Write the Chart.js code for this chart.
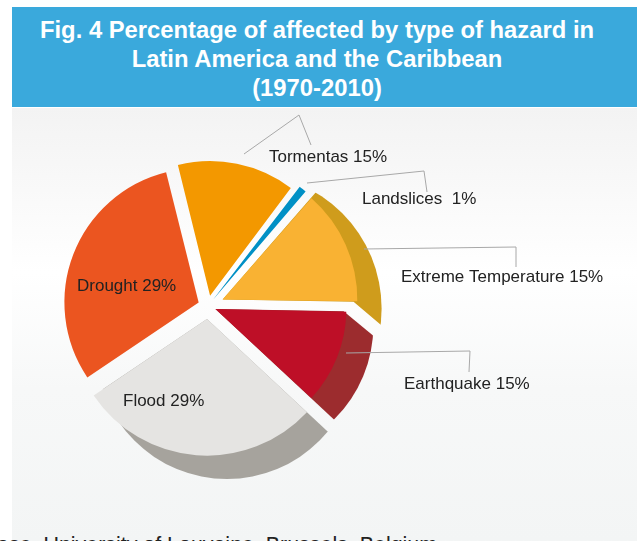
<!DOCTYPE html>
<html>
<head>
<meta charset="utf-8">
<script src="https://cdn.jsdelivr.net/npm/chart.js@4"></script>
<style>
html,body{margin:0;padding:0;background:#fff;width:642px;height:541px;overflow:hidden;font-family:"Liberation Sans",Arial,sans-serif}
#header{position:absolute;left:12px;top:7px;width:625px;height:100px;background:#3aa9dc;color:#fff;font-weight:bold;font-size:23.8px;line-height:29px;text-align:center;box-sizing:border-box;padding:8px 15px 0 0;white-space:nowrap}
#panel{position:absolute;left:12px;top:108px;width:625px;height:433px;background:linear-gradient(#f3f3f3 0%,#fafafa 22%,#ffffff 38%,#f7f8f8 65%,#f3f5f5 100%)}
#footer{position:absolute;right:205px;top:533px;font-size:21.4px;line-height:24px;color:#222;white-space:nowrap}
canvas{position:absolute;left:0;top:0}
</style>
</head>
<body>
<div id="header">Fig. 4 Percentage of affected by type of hazard in<br>Latin America and the Caribbean<br>(1970-2010)</div>
<div id="panel"></div>
<div id="footer">Database, University of Louvaine, Brussels, Belgium</div>
<canvas id="c" width="642" height="541"></canvas>
<script>
// Hazard names and the percentages printed beside the slices.
const hazards = ["Tormentas", "Landslices", "Extreme Temperature", "Earthquake", "Flood", "Drought"];
const printedPercent = [15, 1, 15, 15, 29, 29];
// Wedge sizes as actually drawn in the picture, in degrees (the picture's wedges
// do not follow the printed percentages exactly, e.g. Earthquake is narrower).
const drawnDegrees = [51, 4, 50, 42, 103, 110];
const colors = ["#f39800", "#0090c5", "#f9b233", "#be0f27", "#e5e4e2", "#eb5520"];

// Chart.js translates a slice by offset/4 along its mid-angle.
const sliceOffsets = [42, 32, 64, 32, 52, 40];
// Each slice of the picture has its own slightly different radius.
const sliceRadiusScale = [0.98, 1, 0.97, 0.95, 1.01, 0.99];

// 3D side walls: circle shifted from the slice apex, clipped beside the slice.
const walls = {
  2: {color: "#cf9c1c", dx: 24, dy: 9, r: 135, kind: "afterEnd", vec: [26, 22]},
  3: {color: "#9c2c2e", dx: 25, dy: 16, r: 133, kind: "afterStart", vec: [23, 19]},
  4: {color: "#a6a39d", dx: 20, dy: 29, r: 131, kind: "wedge"}
};
// Label placement: text anchor and leader-line path.
const callouts = [
  {x: 269, y: 157, line: [[244,154],[299,115],[311,145]]},
  {x: 362, y: 199, text: "Landslices  1%", line: [[307,183],[424,171],[427,192]]},
  {x: 401, y: 277, line: [[364,249],[516,247],[516,267]]},
  {x: 404, y: 384, line: [[346,353],[470,351],[469,372]]},
  {x: 123, y: 401},
  {x: 77,  y: 286}
];

function apexOf(arc) {
  const mid = (arc.startAngle + arc.endAngle) / 2, o = (arc.options.offset || 0) / 4;
  return {x: arc.x + Math.cos(mid) * o, y: arc.y + Math.sin(mid) * o};
}

const wallPlugin = {
  id: "walls",
  afterDatasetUpdate(chart) {
    chart.getDatasetMeta(0).data.forEach((arc, i) => {
      arc.outerRadius = arc.outerRadius * sliceRadiusScale[i];
    });
  },
  beforeDatasetsDraw(chart) {
    const ctx = chart.ctx, arcs = chart.getDatasetMeta(0).data;
    Object.keys(walls).forEach(k => {
      const w = walls[k], arc = arcs[k], A = apexOf(arc), far = 1000;
      const R = arc.outerRadius;
      const ds = [Math.cos(arc.startAngle), Math.sin(arc.startAngle)];
      const de = [Math.cos(arc.endAngle), Math.sin(arc.endAngle)];
      ctx.save();
      ctx.beginPath();
      ctx.moveTo(A.x, A.y);
      if (w.kind === "wedge") {
        ctx.lineTo(A.x + ds[0]*far, A.y + ds[1]*far);
        ctx.lineTo(A.x + de[0]*far, A.y + de[1]*far);
      } else if (w.kind === "afterEnd") {
        const E = [A.x + de[0]*R, A.y + de[1]*R];
        const P = [E[0] + w.vec[0]*10, E[1] + w.vec[1]*10];
        ctx.lineTo(A.x + ds[0]*far, A.y + ds[1]*far);
        ctx.lineTo(P[0] + ds[0]*far, P[1] + ds[1]*far);
        ctx.lineTo(P[0], P[1]);
        ctx.lineTo(E[0], E[1]);
      } else {
        const E = [A.x + ds[0]*R, A.y + ds[1]*R];
        const P = [E[0] + w.vec[0]*10, E[1] + w.vec[1]*10];
        ctx.lineTo(E[0], E[1]);
        ctx.lineTo(P[0], P[1]);
        ctx.lineTo(A.x + de[0]*(Math.hypot(w.vec[0], w.vec[1])*10 + R), A.y + de[1]*(Math.hypot(w.vec[0], w.vec[1])*10 + R));
      }
      ctx.closePath();
      ctx.clip();
      ctx.fillStyle = w.color;
      ctx.beginPath();
      ctx.arc(A.x + w.dx, A.y + w.dy, w.r, 0, Math.PI * 2);
      ctx.fill();
      ctx.restore();
    });
  },
  afterDatasetsDraw(chart) {
    const ctx = chart.ctx;
    ctx.save();
    ctx.strokeStyle = "#a8a8a8";
    ctx.lineWidth = 1;
    callouts.forEach(c => {
      if (!c.line) return;
      ctx.beginPath();
      c.line.forEach((p, i) => i ? ctx.lineTo(p[0], p[1]) : ctx.moveTo(p[0], p[1]));
      ctx.stroke();
    });
    ctx.fillStyle = "#222";
    ctx.font = '17px "Liberation Sans", Arial, sans-serif';
    ctx.textBaseline = "middle";
    callouts.forEach((c, i) => {
      ctx.fillText(c.text || (hazards[i] + " " + printedPercent[i] + "%"), c.x, c.y);
    });
    ctx.restore();
  }
};

new Chart(document.getElementById("c"), {
  type: "pie",
  data: {
    labels: hazards,
    datasets: [{
      data: drawnDegrees,
      backgroundColor: colors,
      borderWidth: 0,
      offset: sliceOffsets
    }]
  },
  options: {
    responsive: false,
    animation: false,
    rotation: -14,
    layout: {padding: {left: 41, right: 267, top: 139, bottom: 68}},
    plugins: {legend: {display: false}, tooltip: {enabled: false}, title: {display: false}}
  },
  plugins: [wallPlugin]
});
</script>
</body>
</html>
